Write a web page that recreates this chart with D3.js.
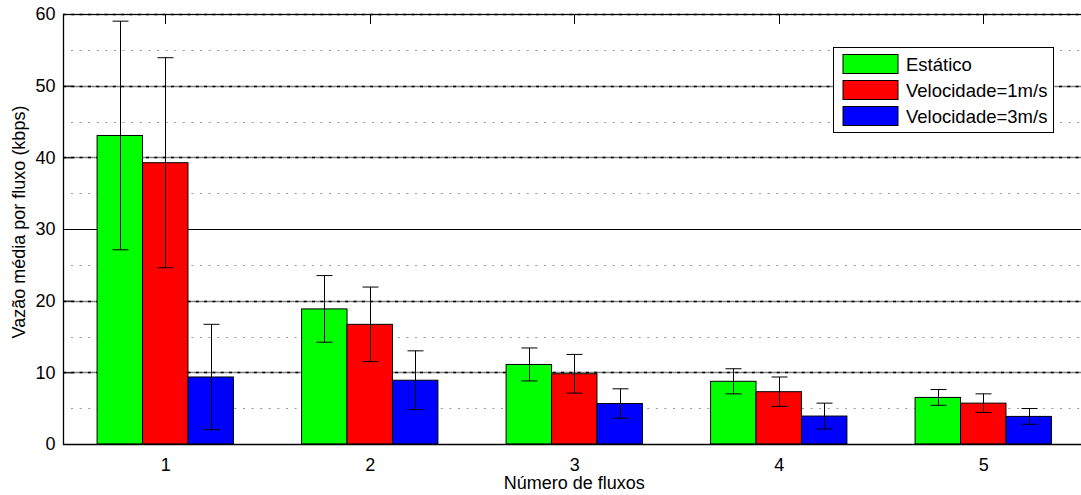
<!DOCTYPE html>
<html>
<head>
<meta charset="utf-8">
<script src="https://cdn.jsdelivr.net/npm/d3@7"></script>
<style>
  html, body { margin: 0; padding: 0; background: #fff; }
  svg { display: block; font-family: "Liberation Sans", Arial, sans-serif; }
</style>
</head>
<body>
<svg id="chart" width="1081" height="495"></svg>
<script>
// Average throughput per flow (kbps) by number of flows, three mobility scenarios
const groups = [1, 2, 3, 4, 5];
const seriesNames = ["Estático", "Velocidade=1m/s", "Velocidade=3m/s"];
const seriesColors = ["#00ff00", "#ff0000", "#0000ff"];

const estaticoMean = [43.05, 18.85, 11.1, 8.75, 6.5];
const estaticoErr  = [15.95, 4.65, 2.3, 1.75, 1.1];
const vel1Mean     = [39.25, 16.7, 9.8, 7.3, 5.7];
const vel1Err      = [14.65, 5.2, 2.7, 2.05, 1.3];
const vel3Mean     = [9.35, 8.9, 5.65, 3.9, 3.85];
const vel3Err      = [7.35, 4.1, 2.05, 1.8, 1.1];

const yTicks = [0, 10, 20, 30, 40, 50, 60];
const yMinor = [5, 15, 25, 35, 45, 55];

const means = [estaticoMean, vel1Mean, vel3Mean];
const errs = [estaticoErr, vel1Err, vel3Err];

const svg = d3.select("#chart");
const plotLeft = 63, plotRight = 1085.5, plotTop = 14, plotBottom = 444;
const fontSize = 18;

const x = d3.scaleLinear().domain([0.5, 5.5]).range([plotLeft, plotRight]);
const y = d3.scaleLinear().domain([0, 60]).range([plotBottom, plotTop]);

const barW = 0.6667 / 3;   // bar width in group units
const offsets = [-barW, 0, barW];

// grid: minor dotted lines
svg.append("g").selectAll("line").data(yMinor).join("line")
  .attr("x1", plotLeft + 8).attr("x2", 1081)
  .attr("y1", d => Math.round(y(d)) + 0.5).attr("y2", d => Math.round(y(d)) + 0.5)
  .attr("stroke", "#9a9a9a").attr("stroke-width", 1)
  .attr("stroke-dasharray", "2,6.6");

// grid: major lines
const major = svg.append("g");
yTicks.filter(d => d > 0).forEach(d => {
  const yy = Math.round(y(d)) + 0.5;
  if (d === 30) {
    major.append("line").attr("x1", plotLeft).attr("x2", 1081).attr("y1", yy).attr("y2", yy)
      .attr("stroke", "#000").attr("stroke-width", 1);
  } else {
    major.append("line").attr("x1", plotLeft).attr("x2", 1081).attr("y1", yy).attr("y2", yy)
      .attr("stroke", "#808080").attr("stroke-width", 1.3);
    major.append("line").attr("x1", plotLeft).attr("x2", 1081).attr("y1", yy).attr("y2", yy)
      .attr("stroke", "#000").attr("stroke-width", 1.3).attr("stroke-dasharray", "3,5.3");
  }
});

// bars
const pxPerUnit = x(1) - x(0);
means.forEach((vals, s) => {
  svg.append("g").selectAll("rect").data(groups).join("rect")
    .attr("x", g => x(g + offsets[s] - barW / 2))
    .attr("width", barW * pxPerUnit)
    .attr("y", (g, i) => y(vals[i]))
    .attr("height", (g, i) => y(0) - y(vals[i]))
    .attr("fill", seriesColors[s])
    .attr("stroke", "#000").attr("stroke-width", 1);
});

// error bars
means.forEach((vals, s) => {
  const g = svg.append("g").attr("stroke", "#000").attr("stroke-width", 1);
  groups.forEach((grp, i) => {
    const cx = Math.round(x(grp + offsets[s])) + 0.5;
    const lo = y(vals[i] - errs[s][i]);
    const hi = y(vals[i] + errs[s][i]);
    g.append("line").attr("x1", cx).attr("x2", cx).attr("y1", lo).attr("y2", hi);
    g.append("line").attr("x1", cx - 8).attr("x2", cx + 8).attr("y1", lo).attr("y2", lo);
    g.append("line").attr("x1", cx - 8).attr("x2", cx + 8).attr("y1", hi).attr("y2", hi);
  });
});

// axes frame
svg.append("line").attr("x1", plotLeft + 0.5).attr("x2", plotLeft + 0.5)
  .attr("y1", plotTop).attr("y2", plotBottom + 1)
  .attr("stroke", "#000").attr("stroke-width", 1.3);
svg.append("line").attr("x1", plotLeft).attr("x2", 1081)
  .attr("y1", plotBottom + 0.5).attr("y2", plotBottom + 0.5)
  .attr("stroke", "#000").attr("stroke-width", 1.3);
svg.append("line").attr("x1", plotLeft).attr("x2", 1081)
  .attr("y1", plotTop + 0.5).attr("y2", plotTop + 0.5)
  .attr("stroke", "#000").attr("stroke-width", 1);

// y axis (ticks inside)
const yAxis = d3.axisLeft(y).tickValues(yTicks).tickSizeInner(-10).tickSizeOuter(0).tickPadding(8)
  .tickFormat(d3.format("d"));
const yg = svg.append("g").attr("transform", `translate(${plotLeft + 0.5},0)`).call(yAxis);
yg.select(".domain").remove();
yg.selectAll("text").attr("font-size", fontSize).attr("fill", "#000")
  .attr("font-family", "Liberation Sans, Arial, sans-serif");

// x axis labels and top ticks
const xAxis = d3.axisBottom(x).tickValues(groups).tickSize(0).tickPadding(14).tickFormat(d3.format("d"));
const xg = svg.append("g").attr("transform", `translate(0,${plotBottom})`).call(xAxis);
xg.select(".domain").remove();
xg.selectAll("text").attr("font-size", fontSize).attr("fill", "#000")
  .attr("font-family", "Liberation Sans, Arial, sans-serif");

svg.append("g").selectAll("line").data(groups).join("line")
  .attr("x1", d => Math.round(x(d)) + 0.5).attr("x2", d => Math.round(x(d)) + 0.5)
  .attr("y1", plotTop).attr("y2", plotTop + 10)
  .attr("stroke", "#000").attr("stroke-width", 1);

// axis titles
svg.append("text").attr("x", x(3)).attr("y", 489).attr("text-anchor", "middle")
  .attr("font-size", fontSize).text("Número de fluxos");
svg.append("text").attr("transform", "translate(25,222) rotate(-90)")
  .attr("text-anchor", "middle").attr("font-size", fontSize)
  .text("Vazão média por fluxo (kbps)");

// legend
const lg = svg.append("g").attr("transform", "translate(833,47)");
lg.append("rect").attr("x", 0.5).attr("y", 0.5).attr("width", 220).attr("height", 85)
  .attr("fill", "#fff").attr("stroke", "#000").attr("stroke-width", 1);
seriesNames.forEach((name, i) => {
  lg.append("rect").attr("x", 10).attr("y", 7.5 + i * 26).attr("width", 55).attr("height", 19)
    .attr("fill", seriesColors[i]).attr("stroke", "#000").attr("stroke-width", 1);
  lg.append("text").attr("x", 73).attr("y", 23.5 + i * 26).attr("font-size", 18.5).text(name);
});
</script>
</body>
</html>
